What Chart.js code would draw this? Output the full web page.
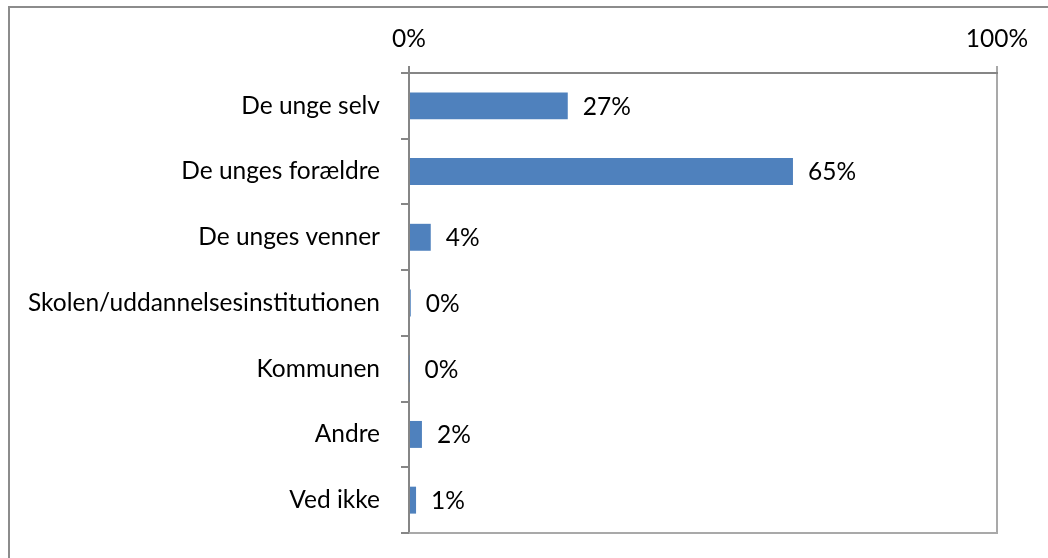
<!DOCTYPE html>
<html>
<head>
<meta charset="utf-8">
<script src="https://cdn.jsdelivr.net/npm/chart.js@4/dist/chart.umd.min.js"></script>
<style>
html,body{margin:0;padding:0;background:#fff;}
#wrap{width:1048px;height:558px;position:relative;}
</style>
</head>
<body>
<div id="wrap"><canvas id="c"></canvas></div>
<script>
const categories = ["De unge selv", "De unges forældre", "De unges venner", "Skolen/uddannelsesinstitutionen", "Kommunen", "Andre", "Ved ikke"];
const values = [27.0, 65.3, 3.7, 0.3, 0.1, 2.2, 1.2];
const xTicks = [0, 100];

const FONT = {family: "Lato, 'Open Sans', sans-serif", size: 24.5};
const AXIS = '#868686';
const FRAME = '#a9a9a9';

const framePlugin = {
  id: 'frame',
  beforeDraw(chart) {
    const ctx = chart.ctx;
    ctx.save();
    ctx.fillStyle = '#fff';
    ctx.fillRect(0, 0, chart.width, chart.height);
    ctx.strokeStyle = '#8c8c8c';
    ctx.lineWidth = 2;
    ctx.strokeRect(9, 7, 1200, 700);
    ctx.restore();
  },
  afterDatasetsDraw(chart) {
    const ctx = chart.ctx;
    const a = chart.chartArea;
    ctx.save();
    ctx.strokeStyle = FRAME;
    ctx.lineWidth = 2;
    ctx.beginPath();
    ctx.moveTo(a.left, a.bottom);
    ctx.lineTo(a.right + 1, a.bottom);
    ctx.stroke();
    const meta = chart.getDatasetMeta(0);
    ctx.fillStyle = '#000';
    ctx.font = FONT.size + 'px ' + FONT.family;
    ctx.textAlign = 'left';
    ctx.textBaseline = 'middle';
    meta.data.forEach((bar, i) => {
      ctx.fillText(Math.round(values[i]) + '%', bar.x + 15, bar.y + 1);
    });
    ctx.restore();
  }
};

new Chart(document.getElementById('c'), {
  type: 'bar',
  data: {
    labels: categories,
    datasets: [{
      data: values,
      backgroundColor: '#4f81bd',
      borderWidth: 0,
      barPercentage: 1,
      categoryPercentage: 0.41
    }]
  },
  options: {
    indexAxis: 'y',
    responsive: true,
    maintainAspectRatio: false,
    animation: false,
    devicePixelRatio: 1,
    layout: {padding: {left: 0, top: 0, right: 51, bottom: 25}},
    plugins: {legend: {display: false}, tooltip: {enabled: false}, title: {display: false}},
    scales: {
      x: {
        position: 'top',
        min: 0,
        max: 100,
        afterBuildTicks(scale) { scale.ticks = xTicks.map(v => ({value: v})); },
        afterFit(scale) { scale.height = 73; },
        ticks: {
          font: FONT,
          color: '#000',
          padding: 12,
          maxRotation: 0,
          callback: v => v + '%'
        },
        grid: {
          drawOnChartArea: true,
          drawTicks: true,
          tickLength: 7,
          lineWidth: 2,
          color: ctx => (ctx.tick && ctx.tick.value === 0) ? AXIS : FRAME
        },
        border: {display: true, color: AXIS, width: 2}
      },
      y: {
        afterFit(scale) {
          scale.width = 409;
          scale.paddingTop = 0;
          scale.paddingBottom = 0;
        },
        ticks: {font: FONT, color: '#000', padding: 21, autoSkip: false},
        grid: {
          offset: true,
          drawOnChartArea: false,
          drawTicks: true,
          tickLength: 8,
          lineWidth: 2,
          color: AXIS
        },
        border: {display: true, color: AXIS, width: 2}
      }
    }
  },
  plugins: [framePlugin]
});
</script>
</body>
</html>
